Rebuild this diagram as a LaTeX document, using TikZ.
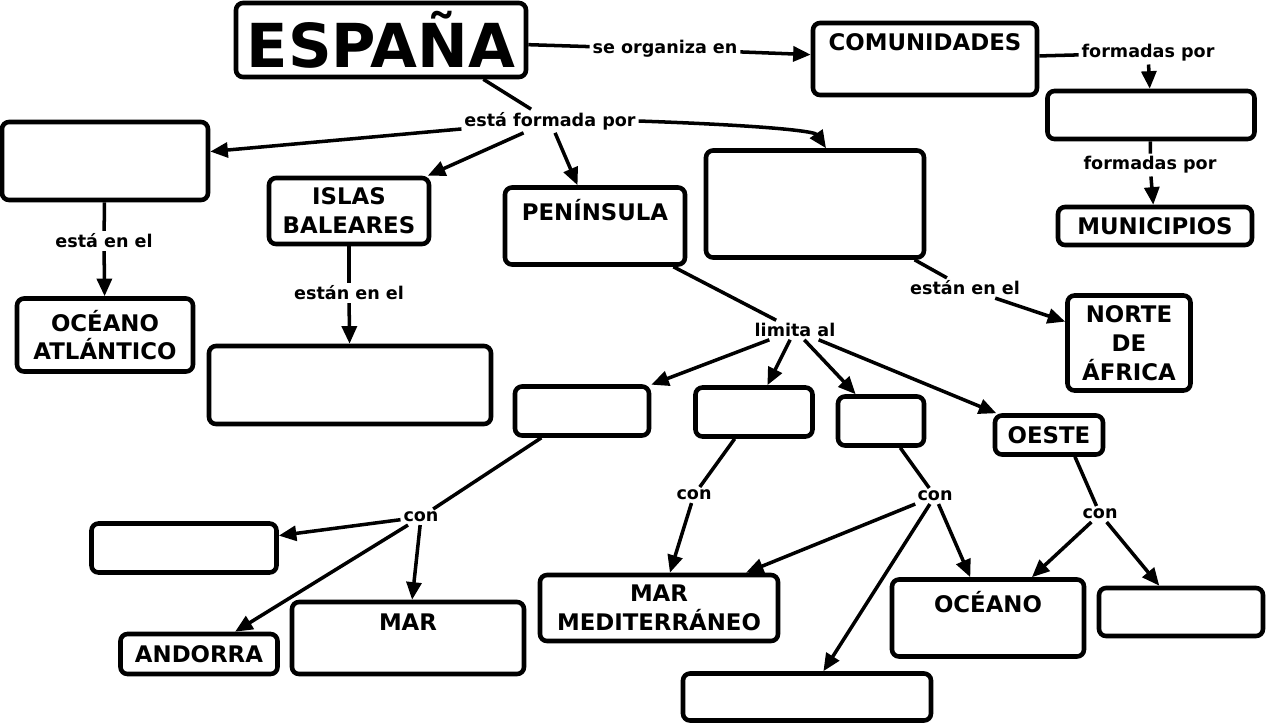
\documentclass[tikz,border=0pt]{standalone}
\usepackage{fontspec}
\setmainfont{DejaVu Sans}
\usetikzlibrary{arrows.meta}

\begin{document}
\begin{tikzpicture}[x=0.02cm, y=-0.02cm, >={Triangle[length=10pt,width=8.5pt]},
  box/.style={draw, line width=2.6pt, rounded corners=4pt, align=center, inner sep=0pt,
    font=\bfseries\fontsize{13}{16.4}\selectfont},
  sz/.style 2 args={minimum width=#1*0.02cm, minimum height=#2*0.02cm},
  txt/.style={anchor=base, inner sep=0pt, font=\bfseries\fontsize{13}{16.4}\selectfont},
  lbl/.style={inner sep=1.5pt, font=\bfseries\fontsize{10}{12}\selectfont},
  ln/.style={line width=2pt},
  arr/.style={line width=2pt, ->}]
  \useasboundingbox (0,0) rectangle (1267,725);

  % top: espana and comunidades
  \node[box, sz={290}{74}, font=\bfseries\fontsize{34.5}{38}\selectfont] (espana) at (381,40) {ESPAÑA};
  \node[box, sz={224}{72}] (comu) at (925,59) {};
  \node[txt] (comut) at (925,50) {COMUNIDADES};
  \node[box, sz={207}{48}] (prov) at (1151,115) {};
  \node[box, sz={194}{38}] (munic) at (1155,226) {MUNICIPIOS};
  \node[lbl] (organiza) at (665,49) {se organiza en};
  \node[lbl] (formadas1) at (1148,53) {formadas por};
  \node[lbl] (formadas2) at (1150,165) {formadas por};
  \draw[ln] (espana) -- (organiza);
  \draw[arr] (organiza) -- (comu);
  \draw[ln] (comu) -- (formadas1);
  \draw[arr] (formadas1) -- (prov);
  \draw[ln] (prov) -- (formadas2);
  \draw[arr] (formadas2) -- (munic);

  % middle row: parts of espana
  \node[lbl] (formada) at (550,121) {está formada por};
  \node[box, sz={206}{78}] (canarias) at (105,161) {};
  \node[box, sz={160}{66}] (islas) at (349,211) {ISLAS\\BALEARES};
  \node[box, sz={180}{77}] (penin) at (595,226) {};
  \node[txt] (penint) at (595,220) {PENÍNSULA};
  \node[box, sz={218}{107}] (ciudades) at (815,204) {};
  \draw[ln] (espana.-21) -- (formada);
  \draw[arr] (formada) -- (canarias);
  \draw[arr] (formada) -- (islas);
  \draw[arr] (formada) -- (penin);
  \draw[arr] (formada.east) .. controls (780,126) and (815,132) .. ([xshift=0.22cm]ciudades.north);

  \node[lbl] (estaen) at (104,241) {está en el};
  \node[box, sz={176}{73}] (atlant) at (105,335) {OCÉANO\\ATLÁNTICO};
  \draw[ln] (canarias) -- (estaen);
  \draw[arr] (estaen) -- (atlant);

  \node[lbl] (estanen1) at (349,293) {están en el};
  \node[box, sz={282}{78}] (mediter1) at (350,385) {};
  \draw[ln] (islas) -- (estanen1);
  \draw[arr] (estanen1) -- (mediter1);

  \node[lbl] (estanen2) at (965,288) {están en el};
  \node[box, sz={123}{95}] (africa) at (1129,343) {NORTE\\DE\\ÁFRICA};
  \draw[ln] (ciudades) -- (estanen2);
  \draw[arr] (estanen2) -- (africa);

  % limits of the peninsula
  \node[lbl] (limita) at (795,330) {limita al};
  \node[box, sz={134}{49}] (norte) at (582,411) {};
  \node[box, sz={117}{49}] (este) at (754,412) {};
  \node[box, sz={86}{49}] (sur) at (881,421) {};
  \node[box, sz={108}{39}] (oeste) at (1049,435) {OESTE};
  \draw[ln] (penin) -- (limita);
  \draw[arr] (limita) -- (norte);
  \draw[arr] (limita) -- (este);
  \draw[arr] (limita) -- (sur);
  \draw[arr] (limita) -- (oeste);

  % bottom: con ...
  \node[lbl] (con1) at (421,517) {con};
  \node[lbl] (con2) at (694,495) {con};
  \node[lbl] (con3) at (935,496) {con};
  \node[lbl] (con4) at (1100,514) {con};
  \node[box, sz={185}{49}] (francia) at (184,548) {};
  \node[box, sz={157}{40}] (andorra) at (199,654) {ANDORRA};
  \node[box, sz={232}{72}] (mar) at (408,638) {};
  \node[txt] (mart) at (408,630) {MAR};
  \node[box, sz={238}{66}] (medit) at (659,608) {MAR\\MEDITERRÁNEO};
  \node[box, sz={248}{47}] (estrecho) at (807,697) {};
  \node[box, sz={192}{77}] (oceano) at (988,618) {};
  \node[txt] (oceanot) at (988,612) {OCÉANO};
  \node[box, sz={164}{48}] (portugal) at (1181,612) {};

  \draw[ln] (norte) -- (con1);
  \draw[arr] (con1) -- (francia);
  \draw[arr] (con1) -- (andorra);
  \draw[arr] (con1) -- (mar);
  \draw[ln] (este) -- (con2);
  \draw[arr] (con2) -- (medit);
  \draw[ln] (sur) -- (con3);
  \draw[arr] (con3) -- (medit);
  \draw[arr] (con3) -- (estrecho);
  \draw[arr] (con3) -- (oceano);
  \draw[ln] (oeste.-40) -- (con4);
  \draw[arr] (con4) -- (oceano);
  \draw[arr] (con4) -- (portugal);
\end{tikzpicture}
\end{document}
